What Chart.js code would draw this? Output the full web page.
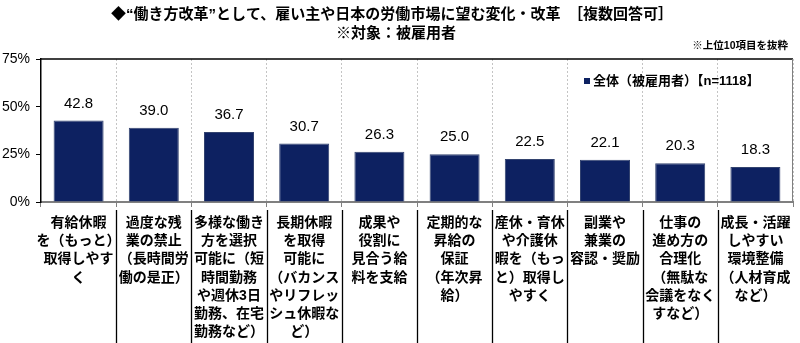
<!DOCTYPE html>
<html lang="ja">
<head>
<meta charset="utf-8">
<script src="https://cdn.jsdelivr.net/npm/chart.js@4/dist/chart.umd.min.js"></script>
<style>
  html, body { margin: 0; padding: 0; background: #fff; }
  canvas { display: block; }
</style>
</head>
<body>
<canvas id="workChart" width="800" height="343"></canvas>
<script>
const titleText = '◆“働き方改革”として、雇い主や日本の労働市場に望む変化・改革　［複数回答可］';
const subtitleText = '※対象：被雇用者';
const noteText = '※上位10項目を抜粋';
const seriesName = '全体（被雇用者）【n=1118】';

const categories = [
    ['有給休暇', 'を（もっと）', '取得しやす', 'く'],
    ['過度な残', '業の禁止', '（長時間労', '働の是正）'],
    ['多様な働き', '方を選択', '可能に（短', '時間勤務', 'や週休3日', '勤務、在宅', '勤務など）'],
    ['長期休暇', 'を取得', '可能に', '（バカンス', 'やリフレッ', 'シュ休暇な', 'ど）'],
    ['成果や', '役割に', '見合う給', '料を支給'],
    ['定期的な', '昇給の', '保証', '（年次昇', '給）'],
    ['産休・育休', 'や介護休', '暇を（もっ', 'と）取得し', 'やすく'],
    ['副業や', '兼業の', '容認・奨励'],
    ['仕事の', '進め方の', '合理化', '（無駄な', '会議をなく', 'すなど）'],
    ['成長・活躍', 'しやすい', '環境整備', '（人材育成', 'など）']
];
const values = [42.8, 39.0, 36.7, 30.7, 26.3, 25.0, 22.5, 22.1, 20.3, 18.3];
const yTicks = [0, 25, 50, 75];

const FONT = "'Liberation Sans', 'Noto Sans CJK JP', sans-serif";
const BAR_COLOR = '#0d2161';

// titles, legend, value labels and the frame around the plot
const decorations = {
    id: 'decorations',
    afterDraw(chart) {
        const { ctx, chartArea } = chart;
        const xScale = chart.scales.x;
        ctx.save();

        ctx.fillStyle = '#000';
        ctx.textAlign = 'center';
        ctx.textBaseline = 'middle';
        ctx.font = `bold 15px ${FONT}`;
        ctx.fillText(titleText, 392, 15);
        ctx.fillText(subtitleText, 396, 34);
        ctx.textAlign = 'right';
        ctx.font = `bold 10.5px ${FONT}`;
        ctx.fillText(noteText, 788, 46);

        // top and right edges of the plot box
        ctx.strokeStyle = '#000';
        ctx.lineWidth = 1.5;
        ctx.beginPath();
        ctx.moveTo(chartArea.left, chartArea.top);
        ctx.lineTo(chartArea.right, chartArea.top);
        ctx.stroke();
        ctx.strokeStyle = '#808080';
        ctx.lineWidth = 1;
        ctx.beginPath();
        ctx.moveTo(chartArea.right - 0.5, chartArea.top);
        ctx.lineTo(chartArea.right - 0.5, chartArea.bottom);
        ctx.stroke();

        // separators between the category labels
        ctx.strokeStyle = '#000';
        ctx.lineWidth = 1.3;
        for (let i = 1; i < categories.length; i++) {
            const x = Math.round((xScale.getPixelForTick(i - 1) + xScale.getPixelForTick(i)) / 2) + 0.5;
            ctx.beginPath();
            ctx.moveTo(x, chartArea.bottom + 8);
            ctx.lineTo(x, chart.height);
            ctx.stroke();
        }

        // legend
        ctx.fillStyle = BAR_COLOR;
        ctx.fillRect(584, 78, 6, 6);
        ctx.fillStyle = '#000';
        ctx.textAlign = 'left';
        ctx.font = `bold 13px ${FONT}`;
        ctx.fillText(seriesName, 593, 81);

        // value labels above the bars
        ctx.textAlign = 'center';
        ctx.font = `15px ${FONT}`;
        chart.getDatasetMeta(0).data.forEach((bar, i) => {
            ctx.fillText(values[i].toFixed(1), bar.x, bar.y - 17);
        });
        ctx.restore();
    }
};

new Chart(document.getElementById('workChart'), {
    type: 'bar',
    data: {
        labels: categories,
        datasets: [{
            label: seriesName,
            data: values,
            backgroundColor: BAR_COLOR,
            borderColor: '#33436f',
            borderWidth: 1,
            barPercentage: 0.665,
            categoryPercentage: 1
        }]
    },
    options: {
        responsive: false,
        animation: false,
        layout: { padding: { top: 59, right: 7, left: 0, bottom: 0 } },
        plugins: {
            legend: { display: false },
            title: { display: false },
            tooltip: { enabled: false }
        },
        scales: {
            x: {
                afterFit: scale => { scale.height = 141; },
                grid: {
                    offset: true,
                    color: c => (c.index === 0 || c.index === categories.length) ? 'transparent' : '#c4c4c4',
                    lineWidth: 1,
                    tickColor: '#808080',
                    tickLength: 5
                },
                border: { color: '#808080', width: 2, dash: [2, 2] },
                ticks: {
                    color: '#000',
                    autoSkip: false,
                    maxRotation: 0,
                    minRotation: 0,
                    padding: 7,
                    font: { family: FONT, size: 14, weight: 'bold', lineHeight: 1.3 }
                }
            },
            y: {
                min: 0,
                max: 75,
                afterFit: scale => { scale.width = 41; },
                afterBuildTicks: scale => { scale.ticks = yTicks.map(v => ({ value: v })); },
                grid: { drawOnChartArea: false, tickColor: '#000', tickLength: 5 },
                border: { color: '#000', width: 1.5 },
                ticks: {
                    color: '#000',
                    padding: 6,
                    font: { family: FONT, size: 14 },
                    callback: v => v + '%'
                }
            }
        }
    },
    plugins: [decorations]
});
</script>
</body>
</html>
